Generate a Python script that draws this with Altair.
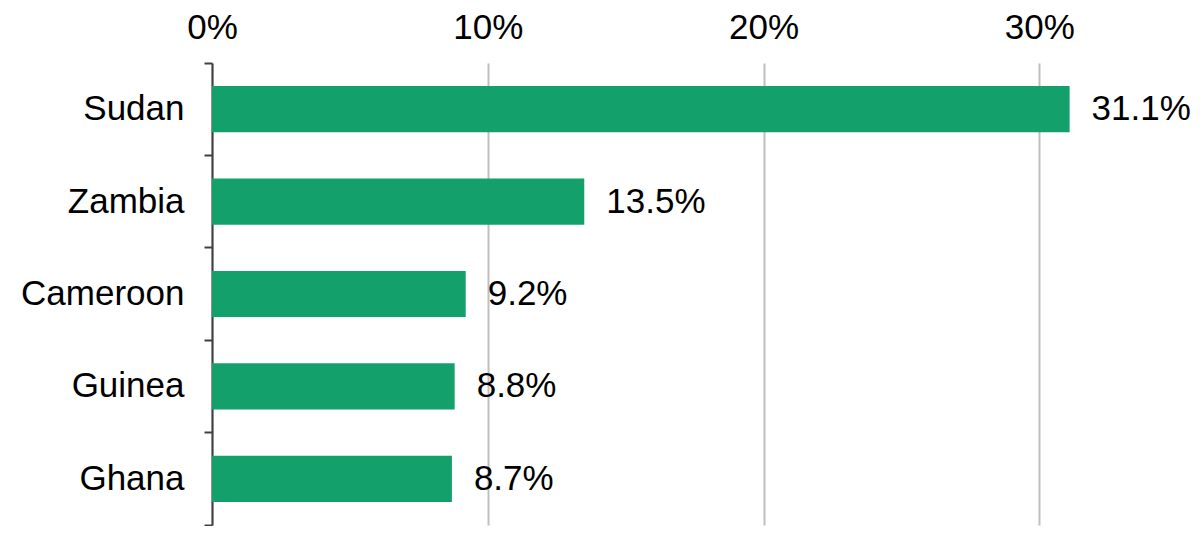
import altair as alt
import pandas as pd

countries = ["Sudan", "Zambia", "Cameroon", "Guinea", "Ghana"]
shares = [0.311, 0.135, 0.092, 0.088, 0.087]
tick_values = [0, 0.1, 0.2, 0.3]

df = pd.DataFrame({"country": countries, "share": shares})

FONT = "Liberation Sans"
FS = 35

y_enc = alt.Y(
    "country:N",
    sort=countries,
    title=None,
    scale=alt.Scale(paddingInner=0, paddingOuter=0),
    axis=alt.Axis(
        bandPosition=1,
        tickExtra=True,
        domainColor="#404040",
        domainWidth=2,
        tickColor="#404040",
        tickWidth=2,
        tickSize=8,
        labelFontSize=FS,
        labelFont=FONT,
        labelColor="black",
        labelPadding=20,
        grid=False,
    ),
)

x_enc = alt.X(
    "share:Q",
    title=None,
    scale=alt.Scale(domain=[0, 0.33], nice=False),
    axis=alt.Axis(
        orient="top",
        values=tick_values,
        format=".0%",
        domain=False,
        ticks=False,
        grid=True,
        gridColor="#bfbfbf",
        gridWidth=2,
        labelFontSize=FS,
        labelFont=FONT,
        labelColor="black",
        labelPadding=18,
        labelFlush=False,
    ),
)

bars = alt.Chart(df).mark_bar(
    color="#13a06b", height=alt.RelativeBandSize(0.5)
).encode(x=x_enc, y=y_enc)

labels = alt.Chart(df).mark_text(
    align="left", baseline="middle", dx=22, fontSize=FS, font=FONT, color="black"
).encode(
    x=alt.X("share:Q"),
    y=alt.Y("country:N", sort=countries),
    text=alt.Text("share:Q", format=".1%"),
)

chart = (
    alt.layer(bars, labels)
    .properties(
        width=910,
        height=462,
        padding={"left": 12, "top": 2, "right": 0, "bottom": 0},
        background="white",
    )
    .configure_view(stroke=None)
)

chart.save("out.html", embed_options={"renderer": "svg", "actions": False})
